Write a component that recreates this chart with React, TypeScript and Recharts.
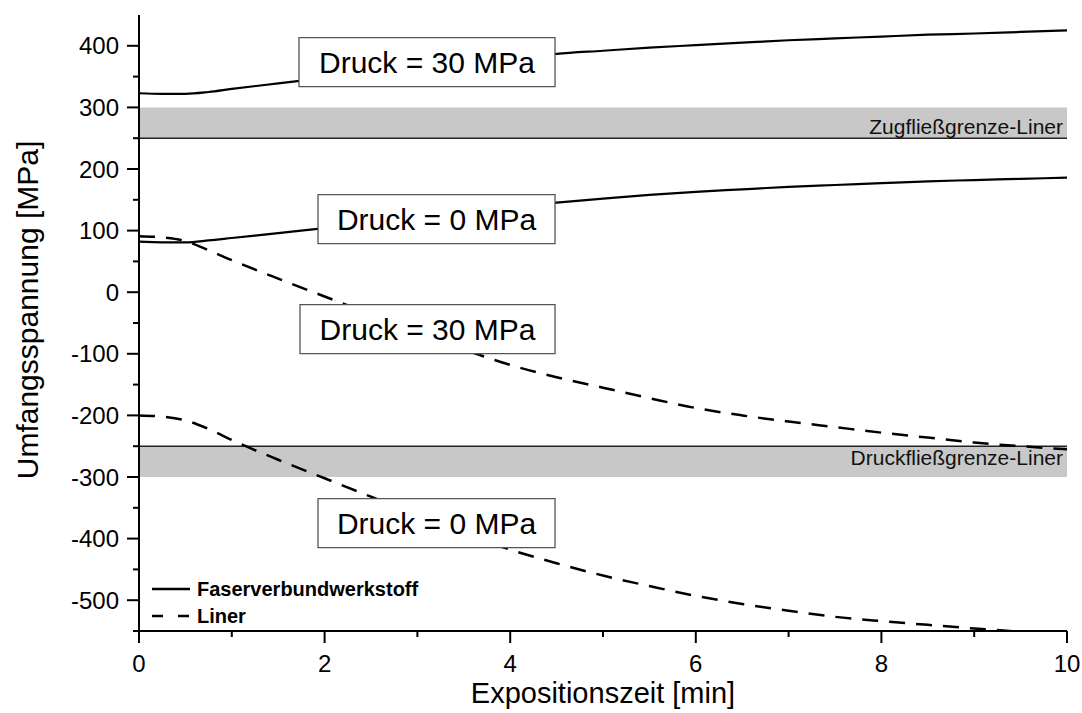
import {
  LineChart,
  Line,
  XAxis,
  YAxis,
  ReferenceArea,
  ReferenceLine,
  Legend,
} from 'recharts'

// Expositionszeit [min]
const times = [0, 0.25, 0.5, 0.75, 1, 1.5, 2, 2.5, 3, 3.5, 4, 4.5, 5, 5.5, 6, 6.5, 7, 7.5, 8, 8.5, 9, 9.5, 10]

// Umfangsspannung [MPa]
const faser30 = [323, 322, 322, 325, 330, 339, 348, 356, 364, 372, 380, 387, 392, 397, 401, 405, 409, 412, 415, 418, 420, 422.5, 425]
const faser0 = [82, 81, 81, 84, 88, 96, 104, 113, 122, 130, 138, 145.5, 152, 158, 163, 167, 171, 174, 177, 180, 182, 184, 186]
const liner30 = [91, 89, 83, 68, 52, 22, -7, -36, -64, -93, -118, -138, -155, -172, -188, -200, -210, -219, -228, -236, -244, -250, -255]
const liner0 = [-200, -202, -208, -222, -240, -272, -302, -332, -362, -392, -418, -440, -460, -477, -493, -506, -517, -527, -534, -540, -546, -551, -555]

const xTicks = [0, 1, 2, 3, 4, 5, 6, 7, 8, 9, 10]
const yTicks = [-550, -500, -450, -400, -350, -300, -250, -200, -150, -100, -50, 0, 50, 100, 150, 200, 250, 300, 350, 400]

const legendItems = [
  { label: 'Faserverbundwerkstoff', dash: undefined },
  { label: 'Liner', dash: '11 15' },
]

// Fließgrenzen des Liners
const yieldBands = [
  { from: 250, to: 300, edge: 250, text: 'Zugfließgrenze-Liner', pos: 'insideBottomRight' },
  { from: -300, to: -250, edge: -250, text: 'Druckfließgrenze-Liner', pos: 'insideTopRight' },
]

// Beschriftungskästen (Datenkoordinaten)
const boxes = [
  { text: 'Druck = 30 MPa', x1: 1.724, x2: 4.483, y1: 333.8, y2: 413.3 },
  { text: 'Druck = 0 MPa', x1: 1.929, x2: 4.483, y1: 79, y2: 158.4 },
  { text: 'Druck = 30 MPa', x1: 1.735, x2: 4.483, y1: -99.7, y2: -20.1 },
  { text: 'Druck = 0 MPa', x1: 1.929, x2: 4.483, y1: -414.6, y2: -335 },
]

const data = times.map((t, i) => ({
  t,
  faser30: faser30[i],
  faser0: faser0[i],
  liner30: liner30[i],
  liner0: liner0[i],
}))

const FONT = '"Liberation Sans", Arial, sans-serif'

function YTick({ x, y, payload }: any) {
  const major = payload.value % 100 === 0
  return (
    <g>
      <line x1={x - (major ? 12 : 6)} x2={x} y1={y} y2={y} stroke="#000" strokeWidth={2} />
      {major && (
        <text x={x - 20} y={y} textAnchor="end" dominantBaseline="central" fontSize={24} fill="#000">
          {payload.value}
        </text>
      )}
    </g>
  )
}

function XTick({ x, y, payload }: any) {
  const major = payload.value % 2 === 0
  return (
    <g>
      <line x1={x} x2={x} y1={y} y2={y + (major ? 12 : 6)} stroke="#000" strokeWidth={2} />
      {major && (
        <text x={x} y={y + 41} textAnchor="middle" fontSize={24} fill="#000">
          {payload.value}
        </text>
      )}
    </g>
  )
}

function LegendBox() {
  return (
    <svg width={320} height={60} style={{ fontFamily: FONT }}>
      {legendItems.map((item, i) => (
        <g key={item.label}>
          <line
            x1={2}
            x2={40}
            y1={15 + i * 27}
            y2={15 + i * 27}
            stroke="#000"
            strokeWidth={2.5}
            strokeDasharray={item.dash}
          />
          <text x={47} y={15 + i * 27} dominantBaseline="central" fontSize={20} fontWeight="bold" fill="#000">
            {item.label}
          </text>
        </g>
      ))}
    </svg>
  )
}

export default function App() {
  return (
    <div style={{ position: 'absolute', left: 0, top: 0, background: '#fff', fontFamily: FONT }}>
      <LineChart
        width={1082}
        height={713}
        data={data}
        margin={{ top: 15, right: 15, bottom: 0, left: 0 }}
      >
        {yieldBands.map((b) => (
          <ReferenceArea
            key={b.text}
            y1={b.from}
            y2={b.to}
            fill="#c8c8c8"
            fillOpacity={1}
            stroke="none"
            label={{ value: b.text, position: b.pos as any, fontSize: 21, fill: '#111', offset: 4 }}
          />
        ))}
        {yieldBands.map((b) => (
          <ReferenceLine key={b.text + '-l'} y={b.edge} stroke="#222" strokeWidth={1.5} />
        ))}
        <XAxis
          dataKey="t"
          type="number"
          domain={[0, 10]}
          ticks={xTicks}
          interval={0}
          height={82}
          tickSize={0}
          tickMargin={0}
          tickLine={false}
          axisLine={{ stroke: '#000', strokeWidth: 2 }}
          tick={<XTick />}
          label={{
            content: ({ viewBox }: any) => (
              <text
                x={viewBox.x + viewBox.width / 2}
                y={viewBox.y + 72}
                textAnchor="middle"
                fontSize={29}
                fill="#000"
              >
                Expositionszeit [min]
              </text>
            ),
          }}
        />
        <YAxis
          type="number"
          domain={[-550, 450]}
          allowDataOverflow
          ticks={yTicks}
          interval={0}
          width={139}
          tickSize={0}
          tickMargin={0}
          tickLine={false}
          axisLine={{ stroke: '#000', strokeWidth: 2 }}
          tick={<YTick />}
          label={{
            content: ({ viewBox }: any) => {
              const cx = viewBox.x + 27
              const cy = viewBox.y + viewBox.height / 2 - 13
              return (
                <text
                  x={cx}
                  y={cy}
                  transform={`rotate(-90 ${cx} ${cy})`}
                  textAnchor="middle"
                  dominantBaseline="central"
                  fontSize={30}
                  fill="#000"
                >
                  Umfangsspannung [MPa]
                </text>
              )
            },
          }}
        />
        <Line type="monotone" dataKey="faser30" stroke="#000" strokeWidth={2.2} dot={false} isAnimationActive={false} />
        <Line type="monotone" dataKey="faser0" stroke="#000" strokeWidth={2.2} dot={false} isAnimationActive={false} />
        <Line type="monotone" dataKey="liner30" stroke="#000" strokeWidth={2.5} strokeDasharray="16 11" dot={false} isAnimationActive={false} />
        <Line type="monotone" dataKey="liner0" stroke="#000" strokeWidth={2.5} strokeDasharray="16 11" dot={false} isAnimationActive={false} />
        {boxes.map((b, i) => (
          <ReferenceArea
            key={i}
            x1={b.x1}
            x2={b.x2}
            y1={b.y1}
            y2={b.y2}
            fill="#fff"
            fillOpacity={1}
            stroke="#555"
            strokeWidth={1.3}
            zIndex={600}
            label={{ value: b.text, position: 'center', fontSize: 30, fill: '#000' }}
          />
        ))}
        <Legend
          layout="vertical"
          align="center"
          verticalAlign="middle"
          content={<LegendBox />}
          wrapperStyle={{ left: 150, top: 574, width: 320 }}
        />
      </LineChart>
    </div>
  )
}
